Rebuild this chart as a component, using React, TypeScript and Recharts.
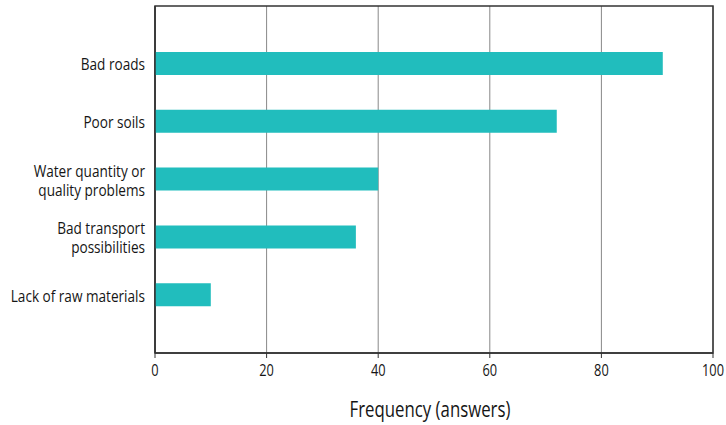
import { BarChart, Bar, XAxis, YAxis, CartesianGrid, ReferenceArea } from "recharts";

const categories = [
  "Bad roads",
  "Poor soils",
  "Water quantity or quality problems",
  "Bad transport possibilities",
  "Lack of raw materials",
];
const frequency = [91, 72, 40, 36, 10];
const xTicks = [0, 20, 40, 60, 80, 100];
const slots = [1, 2, 3, 4, 5];

const labelLines: Record<string, string[]> = {
  "Water quantity or quality problems": ["Water quantity or", "quality problems"],
  "Bad transport possibilities": ["Bad transport", "possibilities"],
};

const data = categories.map((name, i) => ({ name, slot: slots[i], value: frequency[i] }));

const FONT = "'Open Sans', sans-serif";
const SQUEEZE = 0.8;

// narrow text, imitating a condensed face
const NarrowText = ({ x, y, size, anchor, lines, lh = 19 }: any) => {
  const start = -((lines.length - 1) * lh) / 2;
  return (
    <g transform={`translate(${x},${y}) scale(${SQUEEZE},1)`}>
      <text
        x={0}
        y={start}
        textAnchor={anchor}
        dominantBaseline="central"
        fontFamily={FONT}
        fontSize={size}
        fill="#151515"
      >
        {lines.map((l: string, i: number) => (
          <tspan key={i} x={0} y={start + i * lh}>
            {l}
          </tspan>
        ))}
      </text>
    </g>
  );
};

const CategoryTick = (props: any) => {
  const { x, y, payload } = props;
  const name = categories[payload.value - 1];
  if (!name) return null;
  const lines = labelLines[name] || [name];
  return <NarrowText x={x - 2} y={y} size={17} anchor="end" lines={lines} />;
};

const ValueTick = (props: any) => {
  const { x, y, payload } = props;
  return <NarrowText x={x} y={y + 9} size={16} anchor="middle" lines={[String(payload.value)]} />;
};

const AxisTitle = (props: any) => {
  const { viewBox } = props;
  const cx = viewBox.x + viewBox.width / 2;
  return <NarrowText x={cx - 4} y={409} size={21} anchor="middle" lines={["Frequency (answers)"]} />;
};

const App = () => {
  return (
    <div style={{ position: "absolute", left: 0, top: 0, background: "#fff" }}>
      <BarChart
        width={726}
        height={425}
        data={data}
        layout="vertical"
        margin={{ top: 6, right: 13, bottom: 0, left: 0 }}
      >
        <CartesianGrid horizontal={false} stroke="#888" strokeWidth={1} />
        <XAxis
          type="number"
          domain={[0, 100]}
          ticks={xTicks}
          axisLine={{ stroke: "#333", strokeWidth: 1.5 }}
          tickLine={{ stroke: "#333" }}
          tickSize={5}
          tick={<ValueTick />}
          height={72}
          label={<AxisTitle />}
        />
        <YAxis
          type="number"
          dataKey="slot"
          domain={[0, 6]}
          ticks={slots}
          width={155}
          axisLine={{ stroke: "#333", strokeWidth: 1.5 }}
          tickLine={false}
          tick={<CategoryTick />}
          interval={0}
        />
        <ReferenceArea
          x1={0}
          x2={100}
          y1={0}
          y2={6}
          fill="none"
          stroke="#333"
          strokeWidth={1.5}
        />
        <Bar dataKey="value" fill="#21bdbd" barSize={23} isAnimationActive={false} />
      </BarChart>
    </div>
  );
};

export default App;
